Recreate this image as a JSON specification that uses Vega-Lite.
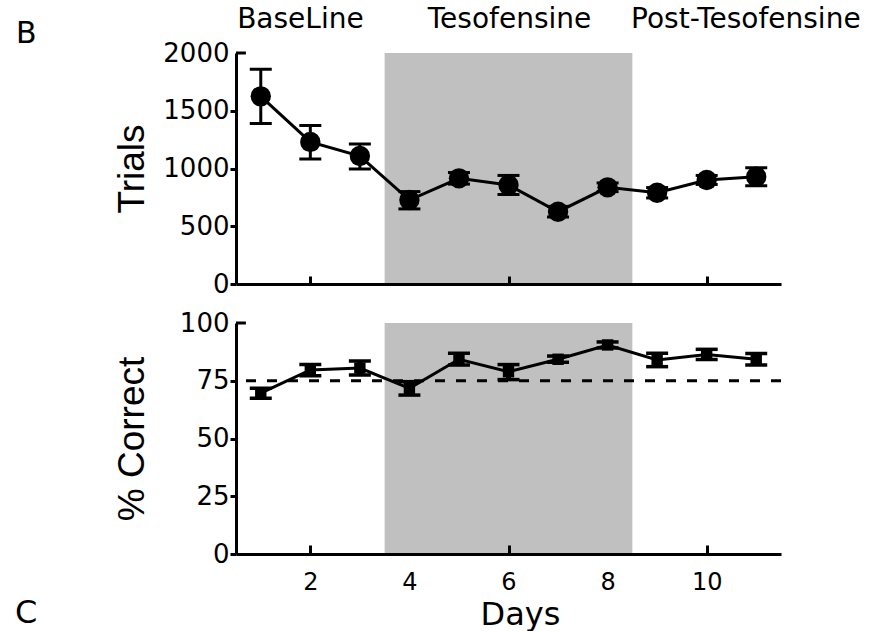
{
  "$schema": "https://vega.github.io/schema/vega-lite/v6.json",
  "autosize": {"type": "none"},
  "padding": {"left": 236, "top": 53, "right": 644, "bottom": 578},
  "background": "white",
  "config": {"view": {"stroke": null}, "font": "DejaVu Sans"},
  "datasets": {
    "trials": [
      {"day": 1, "trials": 1625, "lo": 1390, "hi": 1860},
      {"day": 2, "trials": 1230, "lo": 1082, "hi": 1372},
      {"day": 3, "trials": 1108, "lo": 995, "hi": 1212},
      {"day": 4, "trials": 727, "lo": 650, "hi": 800},
      {"day": 5, "trials": 915, "lo": 865, "hi": 965},
      {"day": 6, "trials": 857, "lo": 775, "hi": 940},
      {"day": 7, "trials": 626, "lo": 580, "hi": 672},
      {"day": 8, "trials": 837, "lo": 800, "hi": 875},
      {"day": 9, "trials": 790, "lo": 745, "hi": 835},
      {"day": 10, "trials": 900, "lo": 862, "hi": 940},
      {"day": 11, "trials": 929, "lo": 850, "hi": 1006}
    ],
    "correct": [
      {"day": 1, "pct": 69.6, "lo": 67.4, "hi": 71.8},
      {"day": 2, "pct": 79.7, "lo": 77.2, "hi": 82.0},
      {"day": 3, "pct": 80.5, "lo": 77.5, "hi": 83.5},
      {"day": 4, "pct": 71.7, "lo": 68.8, "hi": 74.6},
      {"day": 5, "pct": 84.3, "lo": 81.8, "hi": 86.9},
      {"day": 6, "pct": 78.9, "lo": 75.5, "hi": 82.0},
      {"day": 7, "pct": 84.3, "lo": 83.0, "hi": 85.7},
      {"day": 8, "pct": 90.5, "lo": 89.2, "hi": 91.8},
      {"day": 9, "pct": 84.0, "lo": 81.1, "hi": 86.9},
      {"day": 10, "pct": 86.4, "lo": 84.2, "hi": 88.6},
      {"day": 11, "pct": 84.3, "lo": 81.8, "hi": 86.8}
    ]
  },
  "spacing": 39,
  "bounds": "flush",
  "vconcat": [
    {
      "width": 545,
      "height": 231,
      "layer": [
        {
          "data": {"values": [{"start": 3.5, "end": 8.5, "bottom": 0, "top": 2000}]},
          "mark": {"type": "rect", "color": "#c0c0c0"},
          "encoding": {
            "x": {"field": "start", "type": "quantitative",
              "scale": {"domain": [0.5, 11.5], "nice": false, "zero": false},
              "axis": {"values": [2, 4, 6, 8, 10], "labels": false, "title": null, "grid": false,
                "tickSize": -8, "tickWidth": 3, "tickColor": "black", "domainColor": "black", "domainWidth": 3,
                "zindex": 1,
                "tickOpacity": {"condition": {"test": "datum.value == 4 || datum.value == 8", "value": 0}, "value": 1}}},
            "x2": {"field": "end"},
            "y": {"field": "bottom", "type": "quantitative",
              "scale": {"domain": [0, 2000], "nice": false},
              "axis": {"values": [0, 500, 1000, 1500, 2000], "format": "d", "title": "Trials", "grid": false,
                "titleFont": "Liberation Sans", "titleFontSize": 37, "titleFontWeight": "normal", "titleColor": "black",
                "titleX": -93, "titleY": 115.5, "titleAngle": -90, "titleAlign": "center", "titleBaseline": "alphabetic",
                "labelFont": "DejaVu Sans", "labelFontSize": 26, "labelColor": "black", "labelPadding": 1, "labelFlush": false,
                "tickSize": 6, "tickWidth": 3, "tickColor": "black", "domainColor": "black", "domainWidth": 3, "zindex": 1,
                "tickOpacity": {"condition": {"test": "datum.value == 2000", "value": 0}, "value": 1}}},
            "y2": {"field": "top"}
          }
        },
        {
          "data": {"name": "trials"},
          "mark": {"type": "line", "color": "black", "strokeWidth": 3},
          "encoding": {
            "x": {"field": "day", "type": "quantitative"},
            "y": {"field": "trials", "type": "quantitative"}
          }
        },
        {
          "data": {"name": "trials"},
          "mark": {"type": "rule", "color": "black", "strokeWidth": 3},
          "encoding": {
            "x": {"field": "day", "type": "quantitative"},
            "y": {"field": "lo", "type": "quantitative"},
            "y2": {"field": "hi"}
          }
        },
        {
          "data": {"name": "trials"},
          "mark": {"type": "tick", "orient": "horizontal", "size": 22, "thickness": 3, "color": "black", "opacity": 1},
          "encoding": {
            "x": {"field": "day", "type": "quantitative"},
            "y": {"field": "lo", "type": "quantitative"}
          }
        },
        {
          "data": {"name": "trials"},
          "mark": {"type": "tick", "orient": "horizontal", "size": 22, "thickness": 3, "color": "black", "opacity": 1},
          "encoding": {
            "x": {"field": "day", "type": "quantitative"},
            "y": {"field": "hi", "type": "quantitative"}
          }
        },
        {
          "data": {"name": "trials"},
          "mark": {"type": "circle", "size": 415, "color": "black", "opacity": 1},
          "encoding": {
            "x": {"field": "day", "type": "quantitative"},
            "y": {"field": "trials", "type": "quantitative"}
          }
        },
        {
          "data": {"values": [
            {"label": "BaseLine", "day": 1.8, "pos": 2216},
            {"label": "Tesofensine", "day": 6.02, "pos": 2216},
            {"label": "Post-Tesofensine", "day": 10.79, "pos": 2216}
          ]},
          "mark": {"type": "text", "font": "DejaVu Sans", "fontSize": 28, "align": "center", "baseline": "alphabetic", "color": "black"},
          "encoding": {
            "x": {"field": "day", "type": "quantitative"},
            "y": {"field": "pos", "type": "quantitative"},
            "text": {"field": "label"}
          }
        },
        {
          "data": {"values": [{"label": "B", "day": -3.94, "pos": 2087}]},
          "mark": {"type": "text", "font": "DejaVu Sans", "fontSize": 30, "align": "left", "baseline": "alphabetic", "color": "black"},
          "encoding": {
            "x": {"field": "day", "type": "quantitative"},
            "y": {"field": "pos", "type": "quantitative"},
            "text": {"field": "label"}
          }
        },
        {
          "data": {"values": [{"from": 0.5, "to": 0.7, "level": 2000}]},
          "mark": {"type": "rule", "color": "black", "strokeWidth": 3},
          "encoding": {
            "x": {"field": "from", "type": "quantitative"},
            "x2": {"field": "to"},
            "y": {"field": "level", "type": "quantitative"}
          }
        }
      ]
    },
    {
      "width": 545,
      "height": 231,
      "layer": [
        {
          "data": {"values": [{"start": 3.5, "end": 8.5, "bottom": 0, "top": 100}]},
          "mark": {"type": "rect", "color": "#c0c0c0"},
          "encoding": {
            "x": {"field": "start", "type": "quantitative",
              "scale": {"domain": [0.5, 11.5], "nice": false, "zero": false},
              "axis": {"values": [2, 4, 6, 8, 10], "title": "Days", "grid": false,
                "titleFont": "DejaVu Sans", "titleFontSize": 32, "titleFontWeight": "normal", "titleColor": "black",
                "titleX": 284, "titleY": 70, "titleAlign": "center", "titleBaseline": "alphabetic",
                "labelFont": "DejaVu Sans", "labelFontSize": 24, "labelColor": "black", "labelPadding": 25, "labelFlush": false,
                "tickSize": -9, "tickWidth": 3, "tickColor": "black", "domainColor": "black", "domainWidth": 3,
                "zindex": 1,
                "tickOpacity": {"condition": {"test": "datum.value == 4 || datum.value == 8", "value": 0}, "value": 1}}},
            "x2": {"field": "end"},
            "y": {"field": "bottom", "type": "quantitative",
              "scale": {"domain": [0, 100], "nice": false},
              "axis": {"values": [0, 25, 50, 75, 100], "format": "d", "title": "% Correct", "grid": false,
                "titleFont": "Liberation Sans", "titleFontSize": 37, "titleFontWeight": "normal", "titleColor": "black",
                "titleX": -93, "titleY": 115.5, "titleAngle": -90, "titleAlign": "center", "titleBaseline": "alphabetic",
                "labelFont": "DejaVu Sans", "labelFontSize": 26, "labelColor": "black", "labelPadding": 1, "labelFlush": false,
                "tickSize": 6, "tickWidth": 3, "tickColor": "black", "domainColor": "black", "domainWidth": 3, "zindex": 1,
                "tickOpacity": {"condition": {"test": "datum.value == 100", "value": 0}, "value": 1}}},
            "y2": {"field": "top"}
          }
        },
        {
          "data": {"values": [{"chance": 75}]},
          "mark": {"type": "rule", "color": "black", "strokeWidth": 3, "strokeDash": [10, 11]},
          "encoding": {
            "y": {"field": "chance", "type": "quantitative"}
          }
        },
        {
          "data": {"name": "correct"},
          "mark": {"type": "line", "color": "black", "strokeWidth": 3},
          "encoding": {
            "x": {"field": "day", "type": "quantitative"},
            "y": {"field": "pct", "type": "quantitative"}
          }
        },
        {
          "data": {"name": "correct"},
          "mark": {"type": "rule", "color": "black", "strokeWidth": 5},
          "encoding": {
            "x": {"field": "day", "type": "quantitative"},
            "y": {"field": "lo", "type": "quantitative"},
            "y2": {"field": "hi"}
          }
        },
        {
          "data": {"name": "correct"},
          "mark": {"type": "tick", "orient": "horizontal", "size": 22, "thickness": 3.5, "color": "black", "opacity": 1},
          "encoding": {
            "x": {"field": "day", "type": "quantitative"},
            "y": {"field": "lo", "type": "quantitative"}
          }
        },
        {
          "data": {"name": "correct"},
          "mark": {"type": "tick", "orient": "horizontal", "size": 22, "thickness": 3.5, "color": "black", "opacity": 1},
          "encoding": {
            "x": {"field": "day", "type": "quantitative"},
            "y": {"field": "hi", "type": "quantitative"}
          }
        },
        {
          "data": {"name": "correct"},
          "mark": {"type": "square", "size": 130, "color": "black", "opacity": 1},
          "encoding": {
            "x": {"field": "day", "type": "quantitative"},
            "y": {"field": "pct", "type": "quantitative"}
          }
        },
        {
          "data": {"values": [{"label": "C", "day": -3.96, "pos": -29.9}]},
          "mark": {"type": "text", "font": "DejaVu Sans", "fontSize": 32, "align": "left", "baseline": "alphabetic", "color": "black"},
          "encoding": {
            "x": {"field": "day", "type": "quantitative"},
            "y": {"field": "pos", "type": "quantitative"},
            "text": {"field": "label"}
          }
        },
        {
          "data": {"values": [{"from": 0.5, "to": 0.7, "level": 100}]},
          "mark": {"type": "rule", "color": "black", "strokeWidth": 3},
          "encoding": {
            "x": {"field": "from", "type": "quantitative"},
            "x2": {"field": "to"},
            "y": {"field": "level", "type": "quantitative"}
          }
        }
      ]
    }
  ]
}
